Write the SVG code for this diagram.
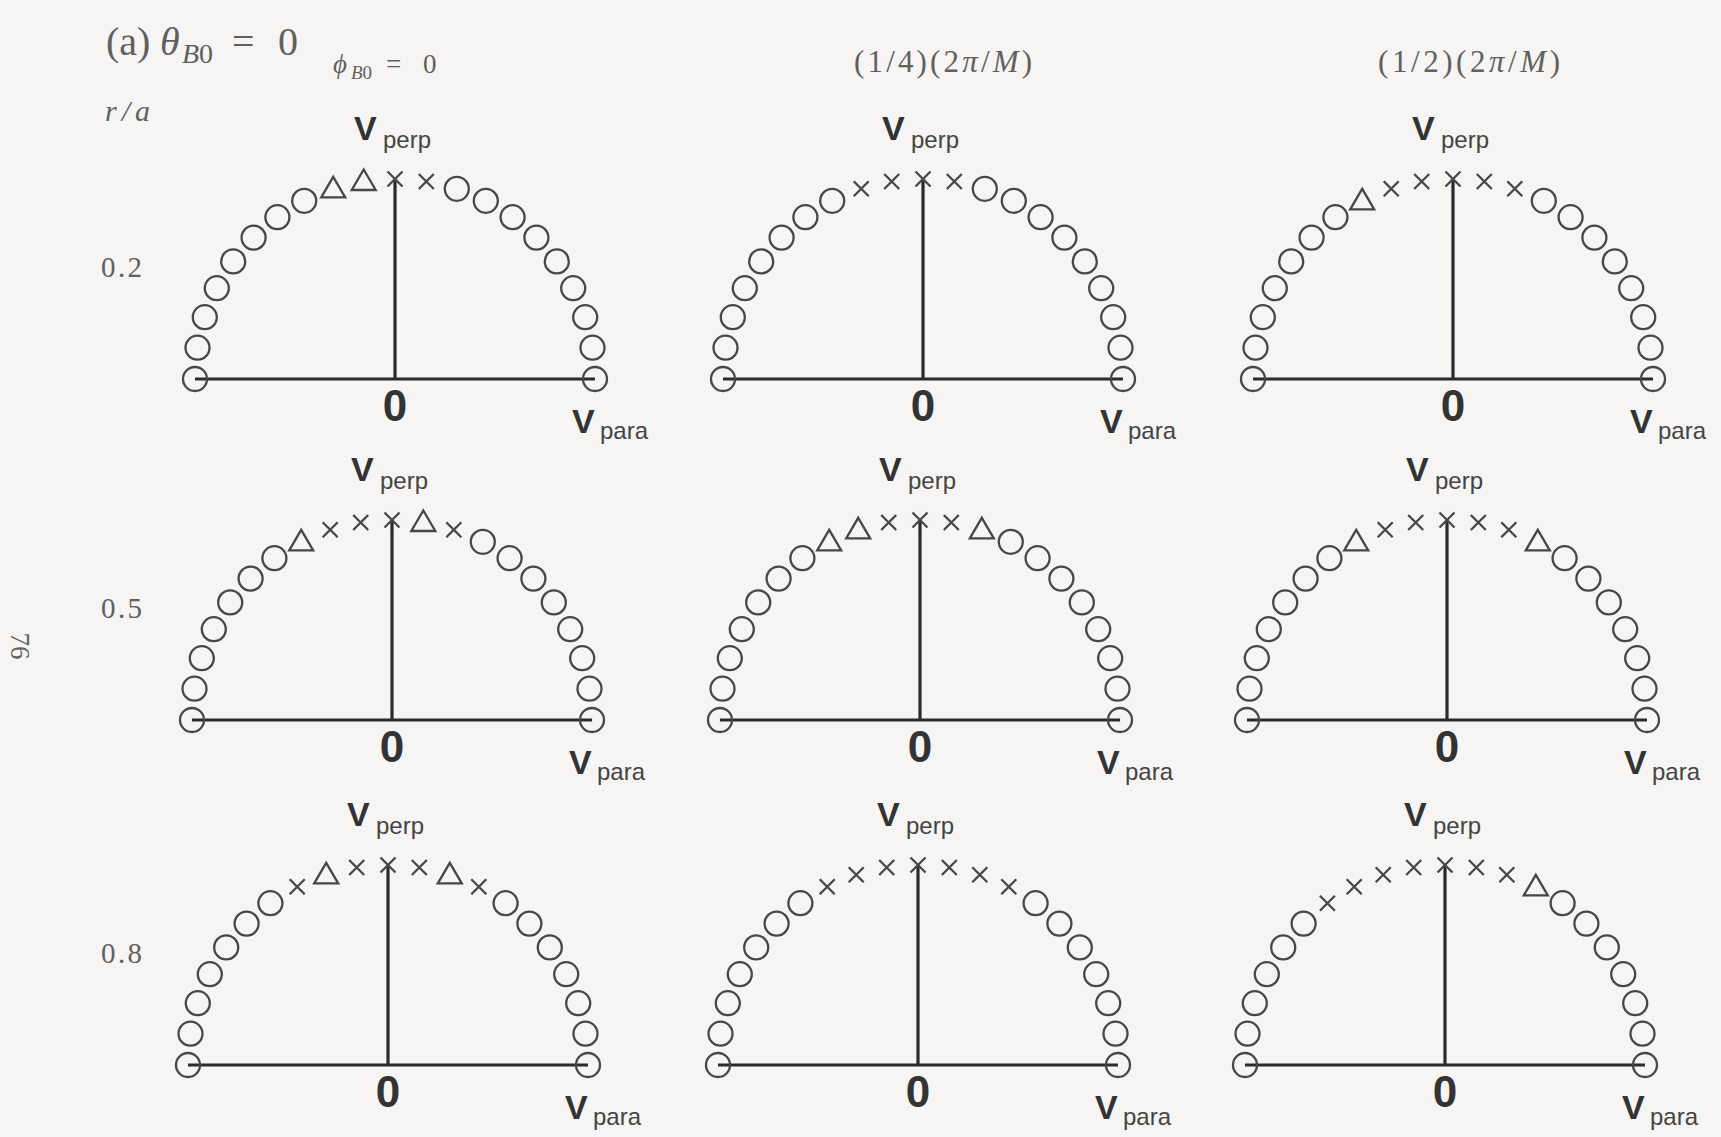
<svg xmlns="http://www.w3.org/2000/svg" xmlns:xlink="http://www.w3.org/1999/xlink" width="1721" height="1137" viewBox="0 0 1721 1137">
<style>
.mk{fill:none;stroke:#474747;stroke-width:2.3}
.ax{stroke:#2b2b2b;stroke-width:3.2;fill:none}
.lv{font-family:"Liberation Sans",Arial,sans-serif;font-weight:bold;font-size:34px;fill:#333}
.ls{font-family:"Liberation Sans",Arial,sans-serif;font-size:24px;fill:#444}
.lz{font-family:"Liberation Sans",Arial,sans-serif;font-weight:bold;font-size:44px;fill:#333;text-anchor:middle}
.tx{font-family:"Liberation Serif","Times New Roman",serif;fill:#606060}
.it{font-style:italic}
</style>
<defs>
<circle id="o" class="mk" cx="0" cy="0" r="12"/>
<polygon id="t" class="mk" points="-12,8.5 12,8.5 0,-12"/>
<path id="x" class="mk" d="M-7.5,-7.5L7.5,7.5M-7.5,7.5L7.5,-7.5"/>
<g id="L6">
<use href="#o" x="-200" y="0"/>
<use href="#o" x="-197.5" y="-31.3"/>
<use href="#o" x="-190.2" y="-61.8"/>
<use href="#o" x="-178.2" y="-90.8"/>
<use href="#o" x="-161.8" y="-117.6"/>
<use href="#o" x="-141.4" y="-141.4"/>
</g>
<g id="R7">
<use href="#o" x="117.6" y="-161.8"/>
<use href="#o" x="141.4" y="-141.4"/>
<use href="#o" x="161.8" y="-117.6"/>
<use href="#o" x="178.2" y="-90.8"/>
<use href="#o" x="190.2" y="-61.8"/>
<use href="#o" x="197.5" y="-31.3"/>
<use href="#o" x="200" y="0"/>
</g>
<g id="frame">
<path class="ax" d="M-200,0H200M0,0V-200"/>
<text class="lv" x="-41" y="-239">V</text>
<text class="ls" x="-12" y="-231">perp</text>
<text class="lz" x="0" y="42">0</text>
<text class="lv" x="177" y="54">V</text>
<text class="ls" x="205" y="60">para</text>
</g>
</defs>
<rect x="0" y="0" width="1721" height="1137" fill="#f6f5f4"/>

<g id="titles">
<text class="tx" x="106" y="55" font-size="40" fill="#555">(a)<tspan class="it" x="160">θ</tspan><tspan class="it" x="182" y="63" font-size="28">B</tspan><tspan font-size="28">0</tspan><tspan x="232" y="55">=</tspan><tspan x="278">0</tspan></text>
<text class="tx" x="333" y="73" font-size="27"><tspan class="it">ϕ</tspan><tspan class="it" x="351" y="79" font-size="19">B</tspan><tspan font-size="19">0</tspan><tspan x="386" y="73">=</tspan><tspan x="423">0</tspan></text>
<text class="tx" x="854" y="72" font-size="31" textLength="178" lengthAdjust="spacing">(1/4)(2<tspan class="it">π</tspan>/<tspan class="it">M</tspan>)</text>
<text class="tx" x="1378" y="72" font-size="31" textLength="182" lengthAdjust="spacing">(1/2)(2<tspan class="it">π</tspan>/<tspan class="it">M</tspan>)</text>
<text class="tx it" x="105" y="121" font-size="30" textLength="45" lengthAdjust="spacing">r/a</text>
<text class="tx" x="101" y="277" font-size="29" textLength="41" lengthAdjust="spacing">0.2</text>
<text class="tx" x="101" y="618" font-size="29" textLength="41" lengthAdjust="spacing">0.5</text>
<text class="tx" x="101" y="963" font-size="29" textLength="41" lengthAdjust="spacing">0.8</text>
<text class="tx" font-size="27" text-anchor="middle" transform="translate(11,646) rotate(90)">76</text>
</g>

<g id="panel-r02-p0" transform="translate(395,379)">
<use href="#frame"/><use href="#L6"/>
<use href="#o" x="-117.6" y="-161.8"/>
<use href="#o" x="-90.8" y="-178.2"/>
<use href="#t" x="-61.8" y="-190.2"/>
<use href="#t" x="-31.3" y="-197.5"/>
<use href="#x" x="0" y="-200"/>
<use href="#x" x="31.3" y="-197.5"/>
<use href="#o" x="61.8" y="-190.2"/>
<use href="#o" x="90.8" y="-178.2"/>
<use href="#R7"/>
</g>

<g id="panel-r02-p1" transform="translate(923,379)">
<use href="#frame"/><use href="#L6"/>
<use href="#o" x="-117.6" y="-161.8"/>
<use href="#o" x="-90.8" y="-178.2"/>
<use href="#x" x="-61.8" y="-190.2"/>
<use href="#x" x="-31.3" y="-197.5"/>
<use href="#x" x="0" y="-200"/>
<use href="#x" x="31.3" y="-197.5"/>
<use href="#o" x="61.8" y="-190.2"/>
<use href="#o" x="90.8" y="-178.2"/>
<use href="#R7"/>
</g>

<g id="panel-r02-p2" transform="translate(1453,379)">
<use href="#frame"/><use href="#L6"/>
<use href="#o" x="-117.6" y="-161.8"/>
<use href="#t" x="-90.8" y="-178.2"/>
<use href="#x" x="-61.8" y="-190.2"/>
<use href="#x" x="-31.3" y="-197.5"/>
<use href="#x" x="0" y="-200"/>
<use href="#x" x="31.3" y="-197.5"/>
<use href="#x" x="61.8" y="-190.2"/>
<use href="#o" x="90.8" y="-178.2"/>
<use href="#R7"/>
</g>

<g id="panel-r05-p0" transform="translate(392,720)">
<use href="#frame"/><use href="#L6"/>
<use href="#o" x="-117.6" y="-161.8"/>
<use href="#t" x="-90.8" y="-178.2"/>
<use href="#x" x="-61.8" y="-190.2"/>
<use href="#x" x="-31.3" y="-197.5"/>
<use href="#x" x="0" y="-200"/>
<use href="#t" x="31.3" y="-197.5"/>
<use href="#x" x="61.8" y="-190.2"/>
<use href="#o" x="90.8" y="-178.2"/>
<use href="#R7"/>
</g>

<g id="panel-r05-p1" transform="translate(920,720)">
<use href="#frame"/><use href="#L6"/>
<use href="#o" x="-117.6" y="-161.8"/>
<use href="#t" x="-90.8" y="-178.2"/>
<use href="#t" x="-61.8" y="-190.2"/>
<use href="#x" x="-31.3" y="-197.5"/>
<use href="#x" x="0" y="-200"/>
<use href="#x" x="31.3" y="-197.5"/>
<use href="#t" x="61.8" y="-190.2"/>
<use href="#o" x="90.8" y="-178.2"/>
<use href="#R7"/>
</g>

<g id="panel-r05-p2" transform="translate(1447,720)">
<use href="#frame"/><use href="#L6"/>
<use href="#o" x="-117.6" y="-161.8"/>
<use href="#t" x="-90.8" y="-178.2"/>
<use href="#x" x="-61.8" y="-190.2"/>
<use href="#x" x="-31.3" y="-197.5"/>
<use href="#x" x="0" y="-200"/>
<use href="#x" x="31.3" y="-197.5"/>
<use href="#x" x="61.8" y="-190.2"/>
<use href="#t" x="90.8" y="-178.2"/>
<use href="#R7"/>
</g>

<g id="panel-r08-p0" transform="translate(388,1065)">
<use href="#frame"/><use href="#L6"/>
<use href="#o" x="-117.6" y="-161.8"/>
<use href="#x" x="-90.8" y="-178.2"/>
<use href="#t" x="-61.8" y="-190.2"/>
<use href="#x" x="-31.3" y="-197.5"/>
<use href="#x" x="0" y="-200"/>
<use href="#x" x="31.3" y="-197.5"/>
<use href="#t" x="61.8" y="-190.2"/>
<use href="#x" x="90.8" y="-178.2"/>
<use href="#R7"/>
</g>

<g id="panel-r08-p1" transform="translate(918,1065)">
<use href="#frame"/><use href="#L6"/>
<use href="#o" x="-117.6" y="-161.8"/>
<use href="#x" x="-90.8" y="-178.2"/>
<use href="#x" x="-61.8" y="-190.2"/>
<use href="#x" x="-31.3" y="-197.5"/>
<use href="#x" x="0" y="-200"/>
<use href="#x" x="31.3" y="-197.5"/>
<use href="#x" x="61.8" y="-190.2"/>
<use href="#x" x="90.8" y="-178.2"/>
<use href="#R7"/>
</g>

<g id="panel-r08-p2" transform="translate(1445,1065)">
<use href="#frame"/><use href="#L6"/>
<use href="#x" x="-117.6" y="-161.8"/>
<use href="#x" x="-90.8" y="-178.2"/>
<use href="#x" x="-61.8" y="-190.2"/>
<use href="#x" x="-31.3" y="-197.5"/>
<use href="#x" x="0" y="-200"/>
<use href="#x" x="31.3" y="-197.5"/>
<use href="#x" x="61.8" y="-190.2"/>
<use href="#t" x="90.8" y="-178.2"/>
<use href="#R7"/>
</g>
</svg>
